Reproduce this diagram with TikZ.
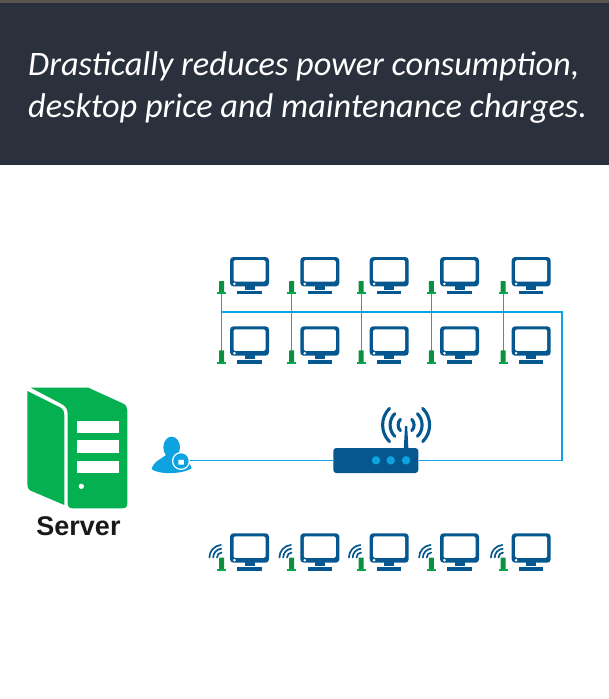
\documentclass[tikz,border=0pt]{standalone}
\usepackage{fontspec}
\setmainfont{Carlito}
\newfontfamily\labelfont{Liberation Sans}
\definecolor{hdr}{HTML}{2A303C}
\definecolor{strip}{HTML}{5A564E}
\definecolor{mon}{HTML}{04588F}
\definecolor{wire}{HTML}{0CA3E0}
\definecolor{srv}{HTML}{04B04F}
\definecolor{ant}{HTML}{0A9040}
\tikzset{
  wireline/.style={draw=wire,line width=1.1pt},
  wave/.style={draw=mon,line width=1.7pt,line cap=round},
  rwave/.style={draw=mon,line width=3.1pt,line cap=round},
  headline/.style={anchor=base west,inner sep=0pt,text=white,font=\fontsize{34.3}{34.3}\selectfont\itshape},
}
\newcommand{\monitorat}[2]{%
  \begin{scope}[shift={(#1,#2)}]
    \fill[mon,rounded corners=3.5pt] (0,0) rectangle (39,29.4);
    \fill[white,rounded corners=1.5pt] (3.5,3.1) rectangle (35.5,24.6);
    \fill[white] (4.4,26.9) circle (1.4);
    \fill[mon] (14.5,29) rectangle (24.5,32.6);
    \fill[mon] (7.3,33.7) rectangle (31.7,37.2);
  \end{scope}}
\newcommand{\antennaat}[2]{%
  \begin{scope}[shift={(#1,#2)}]
    \fill[ant,rounded corners=0.6pt] (-2.5,0) rectangle (2.5,12);
    \fill[srv!70!ant] (-4.3,11.4) rectangle (4.3,13.4);
  \end{scope}}
\newcommand{\wavesat}[2]{%
  \begin{scope}[shift={(#1,#2)}]
    \foreach \r in {5,8.8,12.6}{
      \draw[wave] (-95:\r) arc[start angle=-95,end angle=-180,radius=\r];
    }
  \end{scope}}
\begin{document}
\begin{tikzpicture}[x=1pt,y=-1pt]
\useasboundingbox (0,0) rectangle (609,699);
\fill[white] (0,0) rectangle (609,699);
\fill[hdr] (0,0) rectangle (609,165);
\fill[strip] (0,0) rectangle (609,3);
\node[headline] (line1) at (28,75) {Drastically reduces power consumption,};
\node[headline] (line2) at (28,117) {desktop price and maintenance charges.};

\foreach \i/\x in {1/221.7,2/291.7,3/361.2,4/431.4,5/503.2}{
  \coordinate (top\i) at (\x,294);
  \coordinate (bot\i) at (\x,351);
  \coordinate (tap\i) at (\x,312);
}
\coordinate (corner1) at (562,312);
\coordinate (corner2) at (562,460.3);

\node[fill=mon,rounded corners=3pt,minimum width=85pt,minimum height=25pt,inner sep=0pt] (router) at (375.8,460.5) {};
\coordinate (userport) at (189,460.3);

\foreach \i in {1,...,5}{ \draw[wireline] (top\i) -- (bot\i); }
\draw[wireline] (tap1) -- (corner1) -- (corner2) -- (router.east |- corner2);
\draw[wireline] (router.west |- userport) -- (userport);

\foreach \x/\a in {230/221.7,300.3/291.7,369.7/361.2,440/431.4,511.7/503.2}{
  \monitorat{\x}{257}
  \monitorat{\x}{326.3}
  \monitorat{\x}{533.3}
  \antennaat{\a}{281}
  \antennaat{\a}{350.3}
  \antennaat{\a}{557.6}
  \wavesat{\a+0.3}{557.5}
}

\foreach \x in {376,390.7,406}{ \fill[wire] (\x,460.3) circle (4.2); }
\fill[mon] (403.8,448.5) -- (405,426) -- (407.2,426) -- (408.4,448.5) -- cycle;
\begin{scope}[shift={(406.1,425)}]
  \foreach \r in {8,16,23.5}{
    \draw[rwave] (135:\r) arc[start angle=135,end angle=225,radius=\r];
    \draw[rwave] (-45:\r) arc[start angle=-45,end angle=45,radius=\r];
  }
\end{scope}

\begin{scope}[shift={(10,375)},x=0.3333pt,y=-0.3333pt]
  \fill[srv] (52,48) -- (150,97) .. controls (160,102) and (163,110) .. (163,122)
    -- (163,390) -- (62,347) .. controls (55,343) and (52,338) .. (52,328) -- cycle;
  \fill[srv] (62,38) -- (235,38) -- (338,85) .. controls (348,90) and (352,96) .. (352,106)
    -- (352,385) .. controls (352,395) and (347,400) .. (337,400)
    -- (188,400) .. controls (178,400) and (173,395) .. (173,385)
    -- (173,118) .. controls (173,103) and (168,94) .. (155,87) -- cycle;
  \fill[white] (200,137) rectangle (326,175);
  \fill[white] (200,196) rectangle (326,234);
  \fill[white] (200,257) rectangle (326,295);
  \fill[white] (214,334) circle (8);
  % user
  \fill[wire] (485,217) ellipse (25 and 32);
  \fill[wire] (425,283) .. controls (430,258) and (452,254) .. (468,240)
     -- (502,240) .. controls (518,254) and (540,258) .. (545,280)
     .. controls (520,297) and (450,300) .. (425,283) -- cycle;
  \fill[white] (513,258) circle (27);
  \fill[wire] (513,258) circle (23);
  \fill[white,rounded corners=0.5pt] (505,255) rectangle (522,269);
  \draw[white,line width=0.9pt] (508.5,255) arc[start angle=180,end angle=0,radius=5];
\end{scope}

\node[anchor=base,inner sep=0pt,font=\labelfont\bfseries\fontsize{27}{27}\selectfont,text=black!90] (server) at (78.5,535) {Server};
\end{tikzpicture}
\end{document}
